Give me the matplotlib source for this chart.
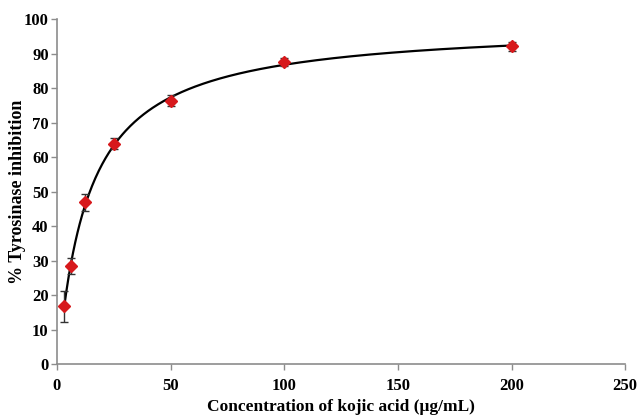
import numpy as np
import matplotlib
matplotlib.use("Agg")
import matplotlib.pyplot as plt

# Data
conc = np.array([3.125, 6.25, 12.5, 25, 50, 100, 200])
inhibition = np.array([16.8, 28.4, 46.9, 63.8, 76.4, 87.5, 92.1])
err = np.array([4.5, 2.2, 2.5, 1.6, 1.5, 1.2, 1.2])

x_ticks = [0, 50, 100, 150, 200, 250]
y_ticks = list(range(0, 101, 10))

# Hyperbolic trend line y = c + a*x/(b+x), fitted to the points
best = None
for b in np.linspace(1, 100, 2000):
    A = np.c_[conc / (b + conc), np.ones_like(conc)]
    coef, res, _, _ = np.linalg.lstsq(A, inhibition, rcond=None)
    sse = np.sum((A @ coef - inhibition) ** 2)
    if best is None or sse < best[0]:
        best = (sse, b, coef)
_, b_fit, (a_fit, c_fit) = best
xs = np.linspace(conc.min(), conc.max(), 400)
ys = c_fit + a_fit * xs / (b_fit + xs)

plt.rcParams['font.family'] = ['Liberation Serif', 'DejaVu Serif']
plt.rcParams['font.weight'] = 'bold'

fig = plt.figure(figsize=(6.38, 4.16), dpi=100)
ax = fig.add_axes([0.0893, 0.125, 0.8907, 0.829])

ax.plot(xs, ys, color='black', lw=1.6, zorder=2)
ax.errorbar(conc, inhibition, yerr=err, fmt='none', ecolor='#333333',
            elinewidth=1, capsize=3, capthick=1, zorder=3)
ax.plot(conc, inhibition, 'D', color='#d7191c', markersize=6.5, zorder=4)

ax.set_xlim(0, 250)
ax.set_ylim(0, 100)
ax.set_xticks(x_ticks)
ax.set_yticks(y_ticks)

for side in ['top', 'right']:
    ax.spines[side].set_visible(False)
for side in ['left', 'bottom']:
    ax.spines[side].set_color('#8c8c8c')
    ax.spines[side].set_linewidth(1.2)
ax.tick_params(direction='out', length=4, width=1, color='#8c8c8c',
               labelsize=12)
ax.tick_params(axis='y', pad=2)
ax.tick_params(axis='x', pad=6)
for lab in ax.get_xticklabels() + ax.get_yticklabels():
    lab.set_fontweight('bold')

ax.set_xlabel('Concentration of kojic acid (μg/mL)', fontsize=12.5, fontweight='bold', labelpad=4)
ax.set_ylabel('% Tyrosinase inhibition', fontsize=13, fontweight='bold')
ax.yaxis.set_label_coords(-0.055, 0.5)

fig.savefig('out.png', dpi=100)
